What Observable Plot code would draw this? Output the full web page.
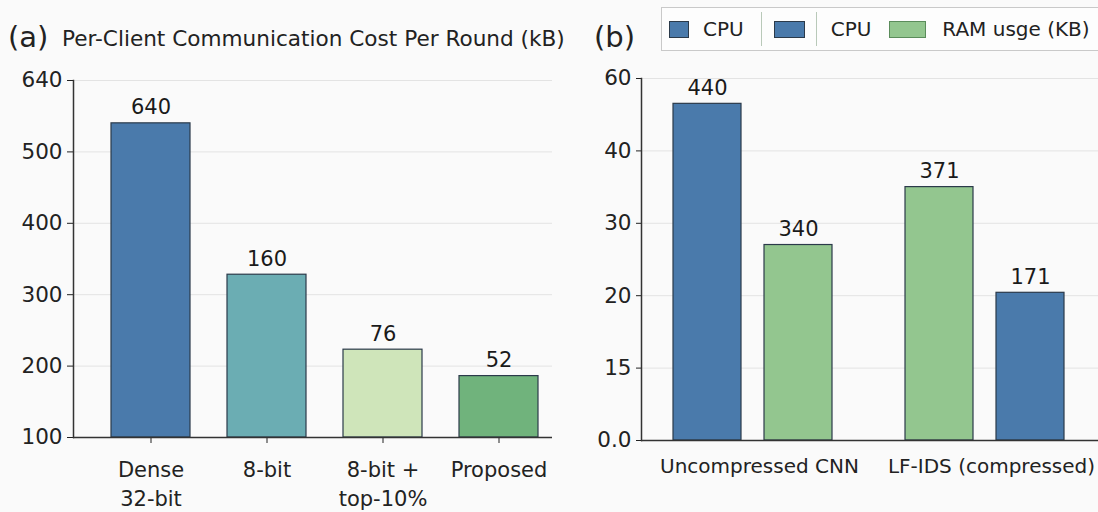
<!DOCTYPE html>
<html><head><meta charset="utf-8">
<script src="https://cdn.jsdelivr.net/npm/d3@7"></script>
<script src="https://cdn.jsdelivr.net/npm/@observablehq/plot@0.6"></script>
<style>
html,body{margin:0;padding:0;background:#fafafa;overflow:hidden;}
#root{position:relative;width:1098px;height:512px;font-family:"DejaVu Sans",sans-serif;color:#222;overflow:hidden;}
.abs{position:absolute;white-space:nowrap;line-height:1;}
.legend{position:absolute;left:661px;top:7px;height:44px;width:460px;border:1px solid #c9c9c9;background:#fdfdfd;display:flex;align-items:center;padding-left:7px;box-sizing:border-box;font-size:20px;}
.sw{display:inline-block;height:17px;box-sizing:border-box;border:1px solid #2b3a4a;}
.sep{display:inline-block;width:1px;height:34px;background:#b9c9b9;}
</style></head><body><div id="root"></div>
<script>
// ---------- data ----------
const leftCategories = ["Dense\n32-bit", "8-bit", "8-bit +\ntop-10%", "Proposed"];
const leftBarHeights = [540, 328, 223, 186];
const leftValueLabels = ["640", "160", "76", "52"];
const leftTickValues = [100, 200, 300, 400, 500, 600];
const leftTickLabels = ["100", "200", "300", "400", "500", "640"];
const leftColors = ["#4a7aab", "#6badb3", "#cfe5ba", "#70b37c"];

const rightGroupNames = ["Uncompressed CNN", "LF-IDS (compressed)"];
const rightGroups = ["Uncompressed CNN", "Uncompressed CNN", "LF-IDS (compressed)", "LF-IDS (compressed)"];
const rightSlots = ["a", "b", "a", "b"];
const rightSeries = ["CPU", "RAM usge (KB)", "RAM usge (KB)", "CPU"];
const rightBarHeights = [46.5, 27.0, 35.0, 20.4];
const rightValueLabels = ["440", "340", "371", "171"];
const rightTickValues = [0, 10, 20, 30, 40, 50];
const rightTickLabels = ["0.0", "15", "20", "30", "40", "60"];
const seriesNames = ["CPU", "RAM usge (KB)"];
const seriesColors = ["#4a7aab", "#93c68f"];
const legendLabels = ["CPU", "CPU", "RAM usge (KB)"];
const legendSeries = ["CPU", "CPU", "RAM usge (KB)"];

const root = document.getElementById("root");
const FONT = "DejaVu Sans";

// ---------- left panel ----------
const leftData = leftCategories.map((c, i) => ({cat: c, h: leftBarHeights[i], label: leftValueLabels[i]}));
const left = Plot.plot({
  width: 560, height: 512,
  marginLeft: 73, marginRight: 8, marginTop: 80, marginBottom: 75,
  style: {background: "transparent", fontFamily: FONT, fontSize: "20px", color: "#222", overflow: "visible"},
  x: {domain: leftCategories, paddingInner: 0.32, paddingOuter: 0.22, align: 0.73, label: null},
  y: {domain: [100, 600], label: null},
  color: {domain: leftCategories, range: leftColors},
  marks: [
    Plot.gridY(leftTickValues, {strokeOpacity: 0.1}),
    Plot.axisY(leftTickValues, {tickFormat: d => leftTickLabels[leftTickValues.indexOf(d)], tickSize: 6, tickPadding: 5, fontSize: 21.5, label: null}),
    Plot.frame({anchor: "left", stroke: "#333", strokeWidth: 1.5}),
    Plot.axisX({tickSize: 6, tickPadding: 13, lineHeight: 1.38, fontSize: 21, label: null}),
    Plot.barY(leftData, {x: "cat", y1: 100, y2: "h", fill: "cat", stroke: "#2b3a4a", strokeWidth: 1.2}),
    Plot.ruleY([100], {stroke: "#333", strokeWidth: 1.5}),
    Plot.text(leftData, {x: "cat", y: "h", text: "label", dy: -9, lineAnchor: "bottom", fontSize: 21, fill: "#1a1a1a"})
  ]
});
left.style.position = "absolute"; left.style.left = "0px"; left.style.top = "0px";
root.appendChild(left);

// ---------- right panel ----------
const rightData = rightGroups.map((g, i) => ({group: g, slot: rightSlots[i], series: rightSeries[i], h: rightBarHeights[i], label: rightValueLabels[i]}));
const right = Plot.plot({
  width: 545, height: 512,
  marginLeft: 81, marginRight: 0, marginTop: 78, marginBottom: 72,
  style: {background: "transparent", fontFamily: FONT, fontSize: "20px", color: "#222", overflow: "visible"},
  fx: {domain: rightGroupNames, padding: 0, label: null},
  x: {domain: ["a", "b"], paddingInner: 0.25, paddingOuter: 0.386, align: 0.438, axis: null},
  y: {domain: [0, 50], label: null},
  color: {domain: seriesNames, range: seriesColors},
  marks: [
    Plot.gridY(rightTickValues, {strokeOpacity: 0.1}),
    Plot.axisY(rightTickValues, {tickFormat: d => rightTickLabels[rightTickValues.indexOf(d)], tickSize: 5, tickPadding: 5, fontSize: 21.5, label: null}),
    Plot.frame({anchor: "left", facetAnchor: "left", stroke: "#333", strokeWidth: 1.5}),
    Plot.axisFx({anchor: "bottom", tickSize: 0, tickPadding: 18, fontSize: 20, dx: 2, label: null}),
    Plot.barY(rightData, {fx: "group", x: "slot", y: "h", fill: "series", stroke: "#2b3a4a", strokeWidth: 1.2}),
    Plot.ruleY([0], {stroke: "#333", strokeWidth: 1.5}),
    Plot.text(rightData, {fx: "group", x: "slot", y: "h", text: "label", dy: -9, lineAnchor: "bottom", fontSize: 21, fill: "#1a1a1a"})
  ]
});
right.style.position = "absolute"; right.style.left = "560px"; right.style.top = "0px";
root.appendChild(right);

// ---------- titles ----------
function addText(txt, x, top, size) {
  const d = document.createElement("div");
  d.className = "abs"; d.textContent = txt;
  d.style.left = x + "px"; d.style.top = top + "px"; d.style.fontSize = size + "px";
  root.appendChild(d);
}
addText("(a)", 8, 23, 29);
addText("Per-Client Communication Cost Per Round (kB)", 62, 28, 21.6);
addText("(b)", 594, 23, 29);

// ---------- legend ----------
const colorOf = s => seriesColors[seriesNames.indexOf(s)];
const lg = document.createElement("div");
lg.className = "legend";
const swW = [20, 31, 37];
legendLabels.forEach((lab, i) => {
  if (i === 1) { const s = document.createElement("span"); s.className = "sep"; s.style.marginRight = "12px"; lg.appendChild(s); }
  const sw = document.createElement("span");
  sw.className = "sw"; sw.style.width = swW[i] + "px"; sw.style.background = colorOf(legendSeries[i]);
  if (legendSeries[i] !== "CPU") sw.style.borderColor = "#5b8c5b";
  sw.style.marginRight = (i === 1 ? 11 : i === 0 ? 14 : 16) + "px";
  lg.appendChild(sw);
  if (i === 1) { const s = document.createElement("span"); s.className = "sep"; s.style.marginRight = "14px"; lg.appendChild(s); }
  const t = document.createElement("span");
  t.textContent = lab; t.style.marginRight = (i === 0 ? 17 : 18) + "px";
  lg.appendChild(t);
});
root.appendChild(lg);
</script></body></html>
